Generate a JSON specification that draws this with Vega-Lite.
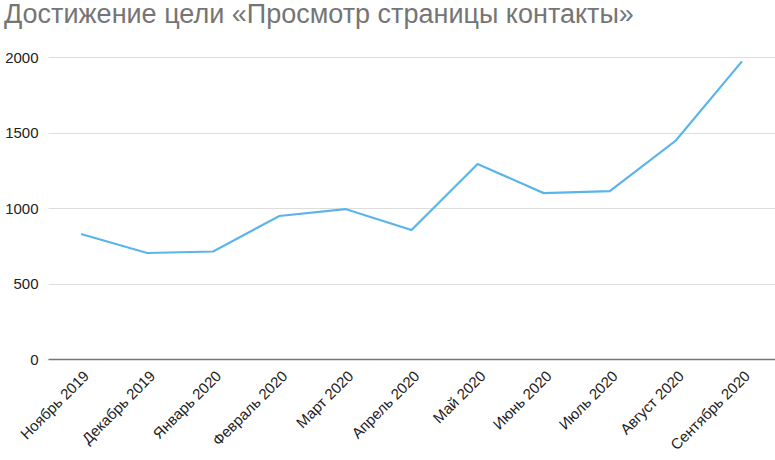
{
  "$schema": "https://vega.github.io/schema/vega-lite/v6.json",
  "width": 727,
  "height": 302,
  "autosize": "none",
  "padding": {"left": 48, "top": 57, "right": 0, "bottom": 101},
  "background": "white",
  "title": {
    "text": "Достижение цели «Просмотр страницы контакты»",
    "anchor": "start",
    "frame": "group",
    "dx": -44,
    "offset": 21,
    "font": "Liberation Sans",
    "fontSize": 27,
    "fontWeight": "normal",
    "color": "#757575"
  },
  "data": {
    "values": [
      {"month": "Ноябрь 2019", "value": 828},
      {"month": "Декабрь 2019", "value": 702},
      {"month": "Январь 2020", "value": 712},
      {"month": "Февраль 2020", "value": 947},
      {"month": "Март 2020", "value": 993},
      {"month": "Апрель 2020", "value": 854},
      {"month": "Май 2020", "value": 1291},
      {"month": "Июнь 2020", "value": 1099},
      {"month": "Июль 2020", "value": 1112},
      {"month": "Август 2020", "value": 1447},
      {"month": "Сентябрь 2020", "value": 1971}
    ]
  },
  "config": {
    "view": {"stroke": null},
    "font": "Liberation Sans"
  },
  "mark": {"type": "line", "color": "#5ab4ec", "strokeWidth": 2.2},
  "encoding": {
    "x": {
      "field": "month",
      "type": "ordinal",
      "sort": null,
      "scale": {"type": "point", "padding": 0.5},
      "axis": {
        "title": null,
        "labelAngle": -45,
        "labelAlign": "right",
        "labelBaseline": "top",
        "labelFontSize": 15,
        "labelColor": "#222222",
        "labelFont": "Liberation Sans",
        "labelPadding": 9,
        "ticks": false,
        "domainColor": "#777777",
        "domainWidth": 1.5,
        "grid": false
      }
    },
    "y": {
      "field": "value",
      "type": "quantitative",
      "scale": {"domain": [0, 2000], "nice": false},
      "axis": {
        "title": null,
        "values": [0, 500, 1000, 1500, 2000],
        "format": "d",
        "labelFontSize": 15,
        "labelColor": "#222222",
        "labelFont": "Liberation Sans",
        "labelPadding": 10,
        "ticks": false,
        "domain": false,
        "gridColor": "#dddddd",
        "gridWidth": 1
      }
    }
  }
}
